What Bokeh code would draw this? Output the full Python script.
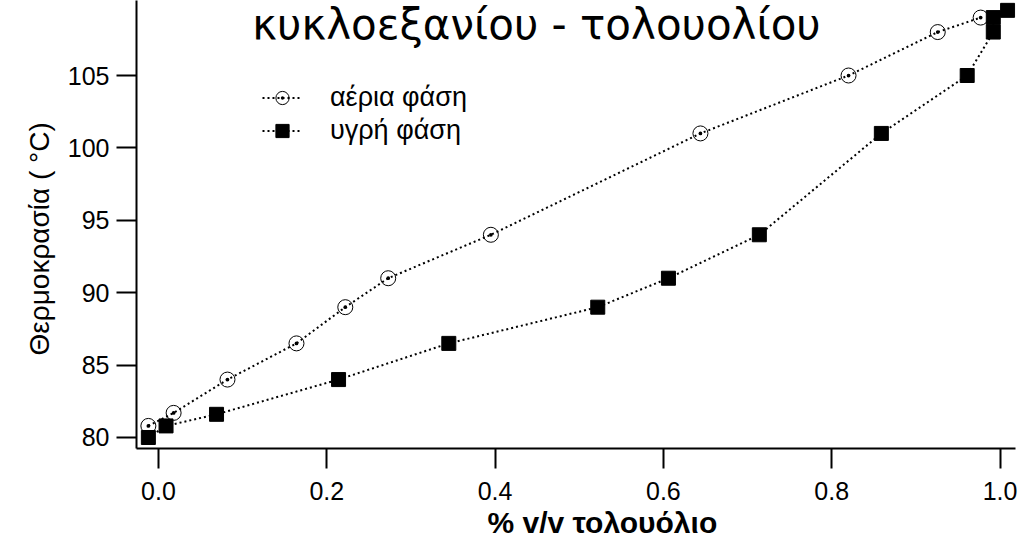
from bokeh.plotting import figure
from bokeh.models import Range1d, FixedTicker, Label, Legend, LegendItem, NumeralTickFormatter, Title
from bokeh.embed import file_html
from bokeh.resources import INLINE

# vapour phase (open circles)
vap_x = [-0.012, 0.018, 0.082, 0.164, 0.222, 0.273, 0.395, 0.644, 0.820, 0.926, 0.977]
vap_y = [80.8, 81.7, 84.0, 86.5, 89.0, 91.0, 94.0, 101.0, 105.0, 108.0, 109.0]
# liquid phase (filled squares)
liq_x = [-0.012, 0.009, 0.069, 0.214, 0.345, 0.522, 0.606, 0.714, 0.859, 0.961, 0.992, 0.992, 1.009]
liq_y = [80.0, 80.8, 81.6, 84.0, 86.5, 89.0, 91.0, 94.0, 101.0, 105.0, 108.0, 109.0, 109.5]

x_ticks = [0.0, 0.2, 0.4, 0.6, 0.8, 1.0]
y_ticks = [80, 85, 90, 95, 100, 105]

title_text = "κυκλοεξανίου - τολουολίου"
x_label = "% v/v τολουόλιο"
y_label = "Θερμοκρασία ( °C)"
vap_name = "αέρια φάση"
liq_name = "υγρή φάση"

FONT = "Liberation Sans"

p = figure(width=1019, height=549, output_backend="svg", toolbar_location=None,
           x_range=Range1d(-0.0261, 1.0184), y_range=Range1d(79.24, 110.18),
           min_border_left=136, min_border_right=4, min_border_top=0, min_border_bottom=101)
p.outline_line_color = None
p.grid.visible = False
p.background_fill_color = "white"

for ax in (p.xaxis[0], p.yaxis[0]):
    ax.axis_line_width = 2
    ax.axis_line_color = "black"
    ax.major_tick_line_width = 2
    ax.major_tick_line_color = "black"
    ax.major_tick_out = 20
    ax.major_tick_in = 0
    ax.minor_tick_line_color = None
    ax.major_label_text_font = FONT
    ax.major_label_text_font_size = "25px"
    ax.major_label_text_color = "black"

p.xaxis.ticker = FixedTicker(ticks=x_ticks)
p.xaxis.formatter = NumeralTickFormatter(format="0.0")
p.xaxis.major_label_standoff = 13
p.yaxis.ticker = FixedTicker(ticks=y_ticks)
p.yaxis.major_label_standoff = 7

# axis titles as side titles so they can be offset like the reference
p.add_layout(Title(text=x_label, align="left", offset=351, standoff=2,
                   text_font=FONT, text_font_size="30px", text_font_style="bold",
                   text_color="black"), "below")
p.add_layout(Title(text=y_label, align="left", offset=93, standoff=20,
                   text_font=FONT, text_font_size="28px", text_font_style="normal",
                   text_color="black"), "left")

dash = "2 3"
l1 = p.line(vap_x, vap_y, line_color="black", line_width=2, line_dash=dash)
m1 = p.scatter(vap_x, vap_y, marker="circle_dot", size=15, line_color="black",
               line_width=1, fill_color="white", fill_alpha=0.0)
l2 = p.line(liq_x, liq_y, line_color="black", line_width=2, line_dash=dash)
m2 = p.scatter(liq_x, liq_y, marker="square", size=14, line_color="black", fill_color="black")

legend = Legend(items=[LegendItem(label=vap_name, renderers=[l1, m1]),
                       LegendItem(label=liq_name, renderers=[l2, m2])],
                location=(126, 301), glyph_width=40, glyph_height=33,
                label_standoff=28, spacing=0, padding=0, margin=0,
                border_line_color=None, background_fill_alpha=0.0,
                label_text_font=FONT, label_text_font_size="27px",
                label_text_color="black")
p.add_layout(legend)

p.add_layout(Label(x=400, y=424, x_units="screen", y_units="screen", text=title_text,
                   text_font="DejaVu Sans", text_font_size="42px", text_align="center",
                   text_baseline="middle", text_color="black"))

open("out.html", "w").write(file_html(p, INLINE))
